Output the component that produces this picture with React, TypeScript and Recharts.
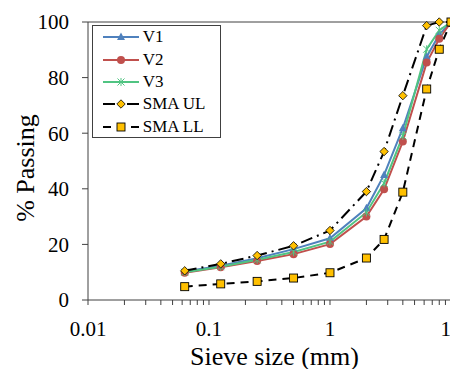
import React from 'react';
import { LineChart, Line, XAxis, YAxis, ReferenceLine } from 'recharts';

const sieveSizes = [0.063, 0.125, 0.25, 0.5, 1, 2, 2.8, 4, 6.3, 8, 10];
const v1 = [10.3, 12.3, 15, 18.3, 22.2, 33, 45, 61.8, 87.5, 95.5, 100];
const v2 = [9.8, 11.8, 14, 16.5, 20.1, 30, 39.8, 57, 85.4, 94, 100];
const v3 = [10, 12, 14.5, 17.3, 21, 31.5, 42, 59, 90.2, 97, 100];
const smaUL = [10.5, 13, 16, 19.5, 25, 39, 53.4, 73.5, 98.7, 100, 100];
const smaLL = [4.8, 5.8, 6.7, 7.9, 9.8, 15.1, 21.8, 38.8, 75.9, 90.2, 100];

const majorTicks = [0.01, 0.1, 1, 10];
const minorMultipliers = [1, 2, 3, 4, 5, 6, 7, 8, 9];
const yTicks = [0, 20, 40, 60, 80, 100];

const xTicks: number[] = [];
[0.01, 0.1, 1].forEach((d) => minorMultipliers.forEach((m) => xTicks.push(parseFloat((d * m).toPrecision(3)))));
xTicks.push(10);

const data = sieveSizes.map((s, i) => ({
  size: s,
  V1: v1[i],
  V2: v2[i],
  V3: v3[i],
  UL: smaUL[i],
  LL: smaLL[i],
}));

const FONT = "'Liberation Serif', 'Times New Roman', serif";
const BLUE = '#4F81BD';
const RED = '#C0504D';
const GREEN = '#50C482';
const GOLD = '#FFC000';

type MarkerKind = 'triangle' | 'circle' | 'star' | 'diamond' | 'square';

function Marker({ kind, cx, cy }: { kind: MarkerKind; cx: number; cy: number }) {
  if (cx == null || cy == null || isNaN(cx) || isNaN(cy)) return null;
  switch (kind) {
    case 'triangle':
      return <polygon points={`${cx},${cy - 4.5} ${cx - 4},${cy + 3} ${cx + 4},${cy + 3}`} fill={BLUE} />;
    case 'circle':
      return <circle cx={cx} cy={cy} r={4} fill={RED} />;
    case 'star':
      return (
        <g stroke={GREEN} strokeWidth={1}>
          <line x1={cx - 3.5} y1={cy - 3.5} x2={cx + 3.5} y2={cy + 3.5} />
          <line x1={cx - 3.5} y1={cy + 3.5} x2={cx + 3.5} y2={cy - 3.5} />
          <line x1={cx} y1={cy - 4} x2={cx} y2={cy + 4} />
        </g>
      );
    case 'diamond':
      return (
        <polygon
          points={`${cx},${cy - 4.2} ${cx + 4.2},${cy} ${cx},${cy + 4.2} ${cx - 4.2},${cy}`}
          fill={GOLD}
          stroke="#000"
          strokeWidth={0.8}
        />
      );
    case 'square':
      return <rect x={cx - 4} y={cy - 4} width={8} height={8} fill={GOLD} stroke="#000" strokeWidth={0.9} />;
  }
  return null;
}

const series = [
  { key: 'V1', name: 'V1', color: BLUE, dash: undefined as string | undefined, marker: 'triangle' as MarkerKind },
  { key: 'V2', name: 'V2', color: RED, dash: undefined, marker: 'circle' as MarkerKind },
  { key: 'V3', name: 'V3', color: GREEN, dash: undefined, marker: 'star' as MarkerKind },
  { key: 'UL', name: 'SMA UL', color: '#000', dash: '12 5 2 5', marker: 'diamond' as MarkerKind },
  { key: 'LL', name: 'SMA LL', color: '#000', dash: '8 6', marker: 'square' as MarkerKind },
];

const fmtX = (v: number) => (majorTicks.includes(v) ? String(v) : '');

function LegendBox() {
  return (
    <div
      style={{
        position: 'absolute',
        left: 83.7,
        top: 17,
        width: 127,
        height: 111,
        border: '1px solid #404040',
        background: '#fff',
        fontFamily: FONT,
        fontSize: 17,
        color: '#000',
      }}
    >
      {series.map((s) => (
        <div key={s.key} style={{ display: 'flex', alignItems: 'center', height: 22.4 }}>
          <svg width={36} height={14} style={{ marginLeft: 10, marginRight: 4, overflow: 'visible' }}>
            <line x1={0} y1={7} x2={36} y2={7} stroke={s.color} strokeWidth={2} strokeDasharray={s.dash} />
            <Marker kind={s.marker} cx={18} cy={7} />
          </svg>
          <span style={{ lineHeight: '22px' }}>{s.name}</span>
        </div>
      ))}
    </div>
  );
}

const textStyle = { fontFamily: FONT };

export default function App() {
  return (
    <div style={{ position: 'relative', width: 450, height: 361, fontFamily: FONT }}>
      <LineChart
        width={450}
        height={361}
        data={data}
        margin={{ top: 14, right: 0, bottom: 0, left: 20 }}
        style={{ fontFamily: FONT }}
      >
        <ReferenceLine y={100} stroke="#404040" strokeWidth={1} ifOverflow="extendDomain" />
        <XAxis
          dataKey="size"
          type="number"
          scale="log"
          domain={[0.01, 11.43]}
          allowDataOverflow
          ticks={xTicks}
          interval={0}
          tickFormatter={fmtX}
          tickSize={5}
          tickMargin={16}
          height={69}
          stroke="#404040"
          tick={{ fill: '#000', fontSize: 21, style: textStyle }}
          label={{
            content: () => (
              <text x={266.5} y={357} textAnchor="middle" fontSize={26} style={textStyle} fill="#000">
                Sieve size (mm)
              </text>
            ),
          }}
        />
        <YAxis
          type="number"
          domain={[0, 100]}
          ticks={yTicks}
          interval={0}
          width={60}
          tickSize={6}
          tickMargin={13}
          stroke="#404040"
          tick={{ fill: '#000', fontSize: 21, style: textStyle }}
          label={{
            content: () => (
              <text
                x={26}
                y={160}
                transform="rotate(-90 26 160)"
                textAnchor="middle"
                fontSize={26}
                style={textStyle}
                fill="#000"
              >
                % Passing
              </text>
            ),
          }}
        />
        {series.map((s) => (
          <Line
            key={s.key}
            dataKey={s.key}
            name={s.name}
            type="linear"
            stroke={s.color}
            strokeWidth={2}
            strokeDasharray={s.dash}
            isAnimationActive={false}
            activeDot={false}
            dot={(p: any) => <Marker key={`${s.key}-${p.index}`} kind={s.marker} cx={p.cx} cy={p.cy} />}
          />
        ))}
      </LineChart>
      <LegendBox />
    </div>
  );
}
